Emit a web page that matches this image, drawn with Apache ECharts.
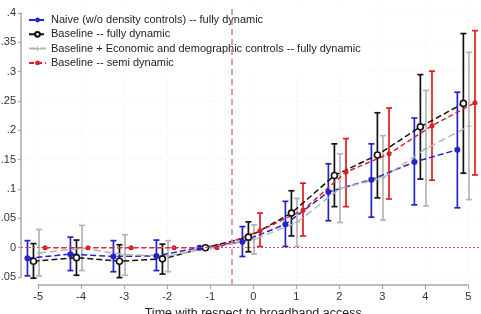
<!DOCTYPE html>
<html>
<head>
<meta charset="utf-8">
<script src="https://cdn.jsdelivr.net/npm/echarts@6/dist/echarts.min.js"></script>
<style>
  html, body { margin: 0; padding: 0; background: #fff; }
  #chart { width: 481px; height: 314px; }
</style>
</head>
<body>
<div id="chart"></div>
<script>
var chart = echarts.init(document.getElementById('chart'));

// event time relative to broadband access
var periods = [-5, -4, -3, -2, -1, 0, 1, 2, 3, 4, 5];

// Naive (w/o density controls) -- fully dynamic
var naiveEst = [-0.018, -0.011, -0.015, -0.014, 0, 0.010, 0.040, 0.095, 0.116, 0.146, 0.167];
var naiveLo  = [-0.048, -0.039, -0.041, -0.039, null, -0.015, 0.002, 0.046, 0.052, 0.073, 0.068];
var naiveHi  = [0.012, 0.018, 0.012, 0.013, null, 0.036, 0.079, 0.143, 0.177, 0.221, 0.265];

// Baseline -- fully dynamic
var baseEst = [-0.023, -0.017, -0.023, -0.019, 0, 0.018, 0.059, 0.123, 0.158, 0.206, 0.246];
var baseLo  = [-0.052, -0.047, -0.051, -0.045, null, -0.007, 0.020, 0.070, 0.085, 0.117, 0.127];
var baseHi  = [0.007, 0.013, 0.005, 0.006, null, 0.044, 0.097, 0.177, 0.230, 0.295, 0.365];

// Baseline + Economic and demographic controls -- fully dynamic
var ctrlEst = [-0.009, -0.001, -0.012, -0.014, 0, 0.014, 0.043, 0.101, 0.119, 0.169, 0.207];
var ctrlLo  = [-0.048, -0.039, -0.047, -0.041, null, -0.011, 0.002, 0.043, 0.047, 0.071, 0.082];
var ctrlHi  = [0.031, 0.038, 0.022, 0.012, null, 0.039, 0.084, 0.160, 0.191, 0.268, 0.333];

// Baseline -- semi dynamic
var semiEst = [0, 0, 0, 0, 0, 0.029, 0.064, 0.129, 0.160, 0.208, 0.247];
var semiLo  = [null, null, null, null, null, 0.002, 0.020, 0.070, 0.083, 0.115, 0.124];
var semiHi  = [null, null, null, null, null, 0.059, 0.110, 0.186, 0.238, 0.301, 0.370];

var FONT = '"Liberation Sans", Arial, sans-serif';

function points(est, offset) {
    return periods.map(function (p, i) { return [p + offset, est[i]]; });
}

function bars(lo, hi, offset) {
    var res = [];
    for (var i = 0; i < periods.length; i++) {
        if (lo[i] != null) res.push([periods[i] + offset, lo[i], hi[i]]);
    }
    return res;
}

function errorBar(params, api) {
    var x = api.value(0);
    var top = api.coord([x, api.value(2)]);
    var bot = api.coord([x, api.value(1)]);
    var cap = 3;
    var style = { stroke: api.visual('color'), lineWidth: 1.7 };
    return {
        type: 'group',
        children: [
            { type: 'line', shape: { x1: top[0], y1: top[1], x2: bot[0], y2: bot[1] }, style: style },
            { type: 'line', shape: { x1: top[0] - cap, y1: top[1], x2: top[0] + cap, y2: top[1] }, style: style },
            { type: 'line', shape: { x1: bot[0] - cap, y1: bot[1], x2: bot[0] + cap, y2: bot[1] }, style: style }
        ]
    };
}

var defs = [
    { name: 'Naive (w/o density controls) -- fully dynamic', color: '#2323c8', off: -0.25,
      est: naiveEst, lo: naiveLo, hi: naiveHi, symbol: 'circle', size: 6, fill: '#2323c8', dash: [6, 3] },
    { name: 'Baseline -- fully dynamic', color: '#111111', off: -0.11,
      est: baseEst, lo: baseLo, hi: baseHi, symbol: 'circle', size: 6, fill: '#ffffff', dash: [6, 3] },
    { name: 'Baseline + Economic and demographic controls -- fully dynamic', color: '#b4b4b4', off: 0.02,
      est: ctrlEst, lo: ctrlLo, hi: ctrlHi, symbol: 'path://M3,0H5V3H8V5H5V8H3V5H0V3H3Z', size: 5, fill: '#b4b4b4', dash: [7, 4] },
    { name: 'Baseline -- semi dynamic', color: '#dd1f1f', off: 0.16,
      est: semiEst, lo: semiLo, hi: semiHi, symbol: 'circle', size: 5, fill: '#dd1f1f', dash: [5, 3] }
];

var series = [];
defs.forEach(function (d, k) {
    series.push({
        name: 'ci' + k,
        type: 'custom',
        xAxisIndex: 0,
        yAxisIndex: 0,
        renderItem: errorBar,
        itemStyle: { color: d.color },
        encode: { x: 0, y: [1, 2] },
        clip: false,
        z: 3,
        data: bars(d.lo, d.hi, d.off)
    });
});
defs.forEach(function (d, k) {
    series.push({
        name: d.name,
        type: 'line',
        xAxisIndex: 0,
        yAxisIndex: 0,
        data: points(d.est, d.off),
        symbol: d.symbol,
        symbolSize: d.size,
        showSymbol: true,
        clip: false,
        z: 4,
        lineStyle: { color: d.color, width: 1.5, type: d.dash },
        itemStyle: { color: d.fill, borderColor: d.color, borderWidth: d.fill === '#ffffff' ? 1.6 : 0 },
        emphasis: { disabled: true }
    });
});

// reference lines
series[series.length - 1].markLine = {
    silent: true,
    symbol: 'none',
    label: { show: false },
    animation: false,
    data: [
        { xAxis: -0.5, lineStyle: { color: '#c8849e', width: 1.5, type: [6, 4] } },
        { yAxis: 0, lineStyle: { color: '#d4466a', width: 1, type: [2, 2] } }
    ]
};

function yLabel(v) {
    if (Math.abs(v) < 1e-9) return '0';
    var s = Math.abs(v).toFixed(2).replace(/0+$/, '').replace(/^0/, '');
    return (v < 0 ? '-' : '') + s;
}

var axisGray = '#a8a8a8';
var gridDot = { color: '#ebebeb', width: 1, type: [1, 3] };

var option = {
    animation: false,
    backgroundColor: '#ffffff',
    textStyle: { fontFamily: FONT },
    grid: [
        { left: 21, right: 0, top: 5, bottom: 29, containLabel: false, outerBoundsMode: 'none' },
        { left: 38.2, right: 12.8, top: 5, bottom: 29, containLabel: false, outerBoundsMode: 'none' },
        { left: 21, right: 0, top: 13, bottom: 37, containLabel: false, outerBoundsMode: 'none' }
    ],
    xAxis: [
        { gridIndex: 0, type: 'value', min: -5.4, max: 5.3, show: false },
        {
            gridIndex: 1, type: 'value', min: -5, max: 5, interval: 1,
            axisLine: { show: true, onZero: false, lineStyle: { color: axisGray, width: 1.5 } },
            axisTick: { show: true, length: 4, lineStyle: { color: axisGray, width: 1.2 } },
            axisLabel: { color: '#333', fontSize: 11, margin: 6, fontFamily: FONT },
            splitLine: { show: true, lineStyle: gridDot },
            name: 'Time with respect to broadband access',
            nameLocation: 'middle',
            nameGap: 20,
            nameTextStyle: { color: '#222', fontSize: 12.5, fontFamily: FONT }
        },
        { gridIndex: 2, type: 'value', min: 0, max: 1, show: false }
    ],
    yAxis: [
        { gridIndex: 0, type: 'value', min: -0.0636, max: 0.4137, show: false },
        { gridIndex: 1, type: 'value', min: 0, max: 1, show: false },
        {
            gridIndex: 2, type: 'value', min: -0.05, max: 0.4, interval: 0.05,
            axisLine: { show: true, onZero: false, lineStyle: { color: axisGray, width: 1.5 } },
            axisTick: { show: true, length: 3, lineStyle: { color: axisGray, width: 1.2 } },
            axisLabel: { color: '#333', fontSize: 11, margin: 5, fontFamily: FONT, formatter: yLabel },
            splitLine: { show: true, lineStyle: gridDot }
        }
    ],
    legend: {
        orient: 'vertical',
        left: 22,
        top: 8,
        padding: [6, 8, 6, 6],
        backgroundColor: '#ffffff',
        itemWidth: 17,
        itemHeight: 6,
        itemGap: 2.3,
        textStyle: { fontSize: 11, color: '#222', fontFamily: FONT, lineHeight: 12 },
        data: defs.map(function (d) { return d.name; })
    },
    series: series
};

chart.setOption(option);
</script>
</body>
</html>
